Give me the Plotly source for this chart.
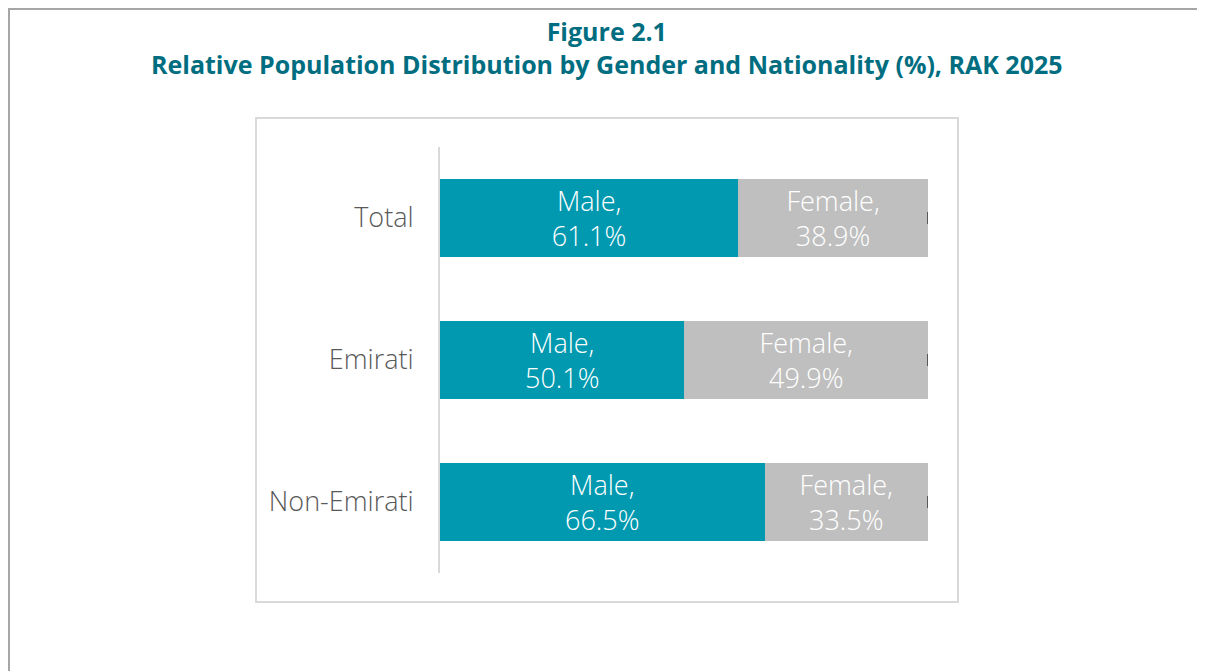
import plotly.graph_objects as go

categories = ["Total", "Emirati", "Non-Emirati"]
male = [61.1, 50.1, 66.5]
female = [38.9, 49.9, 33.5]
title_line1 = "Figure 2.1"
title_line2 = "Relative Population Distribution by Gender and Nationality (%), RAK 2025"

W, H = 1205, 671
OFF = 8  # page offset of the figure in the browser


def px(x):
    return (x - OFF) / W


def py(y):
    return 1 - (y - OFF) / H


male_text = [f"Male,<br>{v:.1f}%" for v in male]
female_text = [f"Female,<br>{v:.1f}%" for v in female]

label_font = dict(color="white", size=27, family="Open Sans", weight=300)

fig = go.Figure()
fig.add_trace(go.Bar(
    y=categories, x=male, orientation="h", name="Male",
    marker=dict(color="#0099B0", line=dict(width=0)),
    text=male_text, textposition="inside", insidetextanchor="middle",
    textfont=label_font, hoverinfo="skip",
))
fig.add_trace(go.Bar(
    y=categories, x=female, orientation="h", name="Female",
    marker=dict(color="#BFBFBF", line=dict(width=0)),
    text=female_text, textposition="inside", insidetextanchor="middle",
    textfont=label_font,
    error_x=dict(type="data", array=[0, 0, 0], symmetric=True,
                 color="#595959", thickness=2.5, width=6),
    hoverinfo="skip",
))

fig.update_layout(
    width=W, height=H,
    barmode="stack", bargap=0.444,
    showlegend=False,
    paper_bgcolor="white", plot_bgcolor="white",
    margin=dict(l=0, r=0, t=0, b=0),
    xaxis=dict(domain=[px(440), px(928)], range=[0, 100], visible=False,
               showgrid=False, zeroline=False, fixedrange=True),
    yaxis=dict(domain=[py(573), py(147)], autorange="reversed",
               showline=True, linecolor="#D9D9D9", linewidth=2,
               showgrid=False, zeroline=False, ticks="",
               ticklabelstandoff=19,
               tickfont=dict(family="Open Sans", size=27, color="#595959", weight=300)),
    annotations=[
        dict(text=f"<b>{title_line1}<br>{title_line2}</b>", x=px(607), y=py(48),
             xref="paper", yref="paper", showarrow=False,
             xanchor="center", yanchor="middle", align="center",
             font=dict(family="Open Sans", size=25, color="#006E80")),
    ],
    shapes=[
        dict(type="line", xref="paper", yref="paper", x0=0, x1=1.0, y0=1.0, y1=1.0,
             line=dict(color="#A6A6A6", width=4)),
        dict(type="line", xref="paper", yref="paper", x0=0, x1=0, y0=1.0, y1=0,
             line=dict(color="#A6A6A6", width=4)),
        dict(type="rect", xref="paper", yref="paper", x0=px(256), x1=px(958), y0=py(602), y1=py(118),
             line=dict(color="#D9D9D9", width=2), layer="below"),
    ],
)

fig.write_html("out.html")
